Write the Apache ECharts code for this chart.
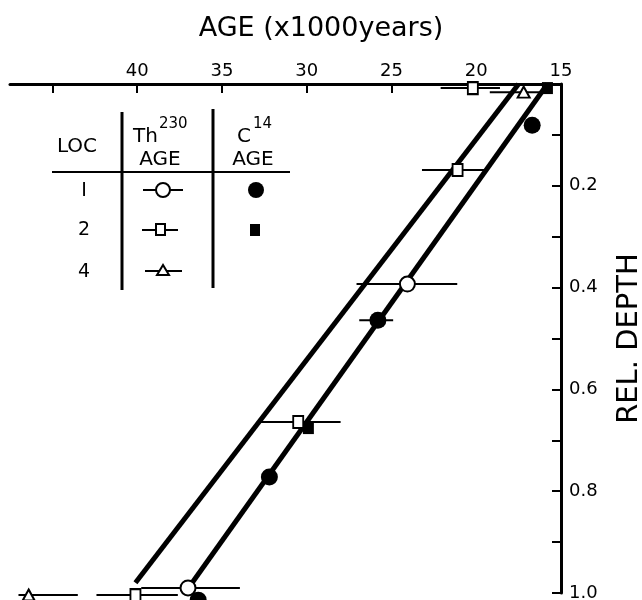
<!DOCTYPE html>
<html>
<head>
<meta charset="utf-8">
<script src="https://cdn.jsdelivr.net/npm/echarts@6/dist/echarts.min.js"></script>
<style>
  html, body { margin: 0; padding: 0; background: #fff; }
  #main { width: 642px; height: 600px; }
</style>
</head>
<body>
<div id="main"></div>
<script>
// age in 1000 years, depth relative
var thLoc1 = [[24.06, 0.393], [37.0, 0.990]];
var thLoc2 = [[20.2, 0.008], [21.1, 0.169], [30.5, 0.664], [40.1, 1.004]];
var thLoc4 = [[17.2, 0.016], [46.4, 1.004]];
var cLoc1 = [[16.7, 0.081], [25.8, 0.464], [32.2, 0.772], [36.4, 1.014]];
var cLoc2 = [[15.8, 0.008], [29.9, 0.676]];

// error bars: [older, younger, depth]
var errBars = [
    [27.06, 21.12, 0.393], [39.76, 33.94, 0.990],
    [22.1, 18.6, 0.008], [23.2, 19.4, 0.169], [32.9, 28.0, 0.664], [42.4, 37.6, 1.004],
    [19.2, 16.2, 0.016], [47.0, 43.5, 1.004],
    [26.9, 24.9, 0.464]
];

// the two fitted lines
var fitUpper = [[17.5, 0], [40.1, 0.98]];
var fitLower = [[15.8, 0], [37.06, 0.994]];

var ageTicks = [15, 20, 25, 30, 35, 40, 45];
var ageLabels = [15, 20, 25, 30, 35, 40];
var depthTicks = [0.1, 0.2, 0.3, 0.4, 0.5, 0.6, 0.7, 0.8, 0.9, 1.0];
var depthLabels = [0.2, 0.4, 0.6, 0.8, 1.0];

var FONT = 'DejaVu Sans';
var chart = echarts.init(document.getElementById('main'));

function openStyle() {
    return { color: '#fff', borderColor: '#000', borderWidth: 2, opacity: 1 };
}

var txt = function (x, y, s, size, align) {
    return {
        type: 'text', x: x, y: y, z: 10,
        style: { text: s, fill: '#000', font: size + 'px ' + FONT, textAlign: align || 'center', textVerticalAlign: 'middle' }
    };
};
var seg = function (x1, y1, x2, y2, w) {
    return { type: 'line', z: 10, shape: { x1: x1, y1: y1, x2: x2, y2: y2 }, style: { stroke: '#000', lineWidth: w || 2 } };
};

// legend table (drawn as graphics)
var legendTable = [
    seg(122, 112, 122, 290, 3),
    seg(213, 109, 213, 288, 3),
    seg(52, 172, 290, 172, 2),
    txt(77, 147, 'LOC', 20),
    txt(158, 137, 'Th', 20, 'right'),
    txt(159, 124, '230', 15, 'left'),
    txt(160, 160, 'AGE', 20),
    txt(251, 137, 'C', 20, 'right'),
    txt(253, 124, '14', 15, 'left'),
    txt(253, 160, 'AGE', 20),
    txt(84, 191, 'I', 19),
    txt(84, 230, '2', 19),
    txt(84, 272, '4', 19),
    seg(143, 190, 183, 190, 2),
    { type: 'circle', z: 11, shape: { cx: 163, cy: 190, r: 7 }, style: { fill: '#fff', stroke: '#000', lineWidth: 2 } },
    { type: 'circle', z: 11, shape: { cx: 256, cy: 190, r: 8 }, style: { fill: '#000' } },
    seg(142, 230, 178, 230, 2),
    { type: 'rect', z: 11, shape: { x: 156, y: 224, width: 9, height: 11 }, style: { fill: '#fff', stroke: '#000', lineWidth: 2 } },
    { type: 'rect', z: 11, shape: { x: 250, y: 224, width: 10, height: 12 }, style: { fill: '#000' } },
    seg(145, 271, 182, 271, 2),
    { type: 'polygon', z: 11, shape: { points: [[163, 265], [157, 275], [169, 275]] }, style: { fill: '#fff', stroke: '#000', lineWidth: 2 } }
];

var option = {
    animation: false,
    backgroundColor: '#fff',
    textStyle: { fontFamily: FONT },
    title: {
        text: 'AGE (x1000years)',
        left: 'center',
        top: 10,
        textStyle: { fontFamily: FONT, fontSize: 27, fontWeight: 'normal', color: '#000' }
    },
    grid: { left: 10, right: 81, top: 84, bottom: 7, outerBoundsMode: 'none', containLabel: false },
    xAxis: {
        type: 'value',
        position: 'top',
        inverse: true,
        min: 15,
        max: 47.5,
        splitLine: { show: false },
        axisLine: { lineStyle: { color: '#000', width: 3 } },
        axisTick: { inside: true, length: 9, lineStyle: { color: '#000', width: 2 }, customValues: ageTicks },
        axisLabel: { customValues: ageLabels, color: '#000', fontSize: 18, margin: 4, fontFamily: FONT }
    },
    yAxis: {
        type: 'value',
        position: 'right',
        inverse: true,
        min: 0,
        max: 1,
        name: 'REL. DEPTH',
        nameLocation: 'middle',
        nameRotate: 90,
        nameGap: 54,
        nameTextStyle: { fontSize: 29, color: '#000', fontFamily: FONT },
        splitLine: { show: false },
        axisLine: { lineStyle: { color: '#000', width: 3 } },
        axisTick: { inside: true, length: 9, lineStyle: { color: '#000', width: 2 }, customValues: depthTicks },
        axisLabel: {
            customValues: depthLabels, color: '#000', fontSize: 18, margin: 8, fontFamily: FONT,
            formatter: function (v) { return v.toFixed(1); }
        }
    },
    graphic: legendTable,
    series: [
        {
            type: 'line', data: fitUpper, symbol: 'none', clip: false, z: 2,
            lineStyle: { color: '#000', width: 5 }
        },
        {
            type: 'line', data: fitLower, symbol: 'none', clip: false, z: 2,
            lineStyle: { color: '#000', width: 5 }
        },
        {
            type: 'custom', clip: false, z: 3,
            data: errBars,
            renderItem: function (params, api) {
                var a = api.coord([api.value(0), api.value(2)]);
                var b = api.coord([api.value(1), api.value(2)]);
                return { type: 'line', shape: { x1: a[0], y1: a[1], x2: b[0], y2: b[1] }, style: { stroke: '#000', lineWidth: 2 } };
            }
        },
        { type: 'scatter', data: thLoc1, symbol: 'circle', symbolSize: 15, clip: false, z: 5, itemStyle: openStyle() },
        { type: 'scatter', data: thLoc2, symbol: 'rect', symbolSize: [10, 12], clip: false, z: 5, itemStyle: openStyle() },
        { type: 'scatter', data: thLoc4, symbol: 'triangle', symbolSize: [12, 11], clip: false, z: 5, itemStyle: openStyle() },
        { type: 'scatter', data: cLoc1, symbol: 'circle', symbolSize: 17, clip: false, z: 4, itemStyle: { color: '#000', opacity: 1 } },
        { type: 'scatter', data: cLoc2, symbol: 'rect', symbolSize: [11, 12], clip: false, z: 4, itemStyle: { color: '#000', opacity: 1 } }
    ]
};
chart.setOption(option);
</script>
</body>
</html>
